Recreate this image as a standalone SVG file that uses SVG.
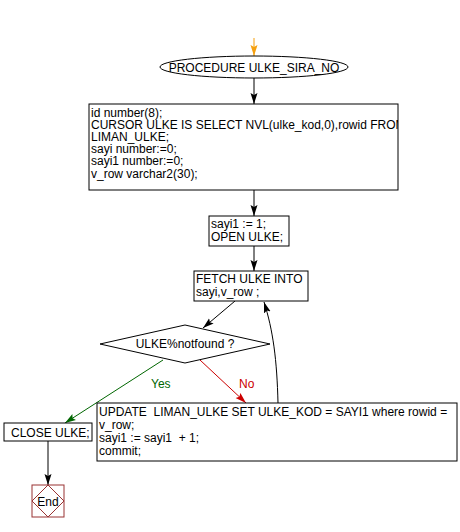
<svg xmlns="http://www.w3.org/2000/svg" width="460" height="532" viewBox="0 0 460 532">
<style>
text{font-family:"Liberation Sans",Arial,sans-serif;font-size:12px;fill:#000}
.box{fill:#fff;stroke:#000;stroke-width:1}
.ln{fill:none;stroke:#000;stroke-width:1}
.yes{fill:none;stroke:#006600;stroke-width:1}
.no{fill:none;stroke:#cc0000;stroke-width:1}
.start{fill:none;stroke:#f5a00f;stroke-width:1}
.c{text-anchor:middle}
</style>
<defs>
<marker id="ab" markerUnits="userSpaceOnUse" markerWidth="12" markerHeight="8" refX="11" refY="4" orient="auto"><path d="M0,0.5 L11,4 L0,7.5 L2,4 z" fill="#000"/></marker>
<marker id="ao" markerUnits="userSpaceOnUse" markerWidth="12" markerHeight="8" refX="11" refY="4" orient="auto"><path d="M0,0.5 L11,4 L0,7.5 L2,4 z" fill="#f5a00f"/></marker>
<marker id="ag" markerUnits="userSpaceOnUse" markerWidth="12" markerHeight="8" refX="11" refY="4" orient="auto"><path d="M0,0.5 L11,4 L0,7.5 L2,4 z" fill="#006600"/></marker>
<marker id="ar" markerUnits="userSpaceOnUse" markerWidth="12" markerHeight="8" refX="11" refY="4" orient="auto"><path d="M0,0.5 L11,4 L0,7.5 L2,4 z" fill="#cc0000"/></marker>
<clipPath id="clip1"><rect x="89" y="104" width="309" height="86"/></clipPath>
</defs>
<g id="connectors">
<line class="start" x1="254" y1="38" x2="254" y2="56" marker-end="url(#ao)"/>
<line class="ln" x1="254" y1="78" x2="254" y2="104" marker-end="url(#ab)"/>
<line class="ln" x1="254" y1="190" x2="254" y2="216" marker-end="url(#ab)"/>
<line class="ln" x1="254" y1="246" x2="254" y2="271" marker-end="url(#ab)"/>
<line class="ln" x1="235" y1="301" x2="203" y2="328" marker-end="url(#ab)"/>
<path class="ln" d="M278,403 C277,360 273,330 264,302" marker-end="url(#ab)"/>
<path class="yes" d="M163,360 L65,423" marker-end="url(#ag)"/>
<text x="151" y="388" style="fill:#006600">Yes</text>
<path class="no" d="M200,360 L246,403" marker-end="url(#ar)"/>
<text x="239" y="388" style="fill:#cc0000">No</text>
<line class="ln" x1="48" y1="441" x2="48" y2="485" marker-end="url(#ab)"/>
</g>
<g id="start">
<ellipse cx="254" cy="67" rx="94" ry="11" class="box"/>
<text x="254" y="72" class="c">PROCEDURE ULKE_SIRA_NO</text>
</g>
<g id="decl">
<rect x="89" y="104" width="309" height="86" class="box"/>
<g clip-path="url(#clip1)">
<text x="91" y="116.5">id number(8);</text>
<text x="91" y="128.7">CURSOR ULKE IS SELECT NVL(ulke_kod,0),rowid FROM</text>
<text x="91" y="140.9">LIMAN_ULKE;</text>
<text x="91" y="153.1">sayi number:=0;</text>
<text x="91" y="165.3">sayi1 number:=0;</text>
<text x="91" y="177.5">v_row varchar2(30);</text>
</g>
</g>
<g id="open">
<rect x="209" y="216" width="80" height="30" class="box"/>
<text x="211" y="228">sayi1 := 1;</text>
<text x="211" y="241">OPEN ULKE;</text>
</g>
<g id="fetch">
<rect x="194" y="271" width="114" height="30" class="box"/>
<text x="196" y="283">FETCH ULKE INTO</text>
<text x="196" y="296">sayi,v_row ;</text>
</g>
<g id="decision">
<polygon points="185,325 270,344 185,363 100,344" class="box"/>
<text x="185" y="348" class="c">ULKE%notfound ?</text>
</g>
<g id="update">
<rect x="97" y="403" width="360" height="58" class="box"/>
<text x="99" y="416" xml:space="preserve">UPDATE  LIMAN_ULKE SET ULKE_KOD = SAYI1 where rowid =</text>
<text x="99" y="429">v_row;</text>
<text x="99" y="442" xml:space="preserve">sayi1 := sayi1  + 1;</text>
<text x="99" y="455">commit;</text>
</g>
<g id="close">
<rect x="4" y="423" width="88" height="18" class="box"/>
<text x="11" y="436.5">CLOSE ULKE;</text>
</g>
<g id="end">
<rect x="32" y="485" width="32" height="32" fill="#fff" stroke="#993333"/>
<polygon points="48,485 64,501 48,517 32,501" fill="none" stroke="#993333"/>
<text x="48" y="505.5" class="c">End</text>
</g>
</svg>
